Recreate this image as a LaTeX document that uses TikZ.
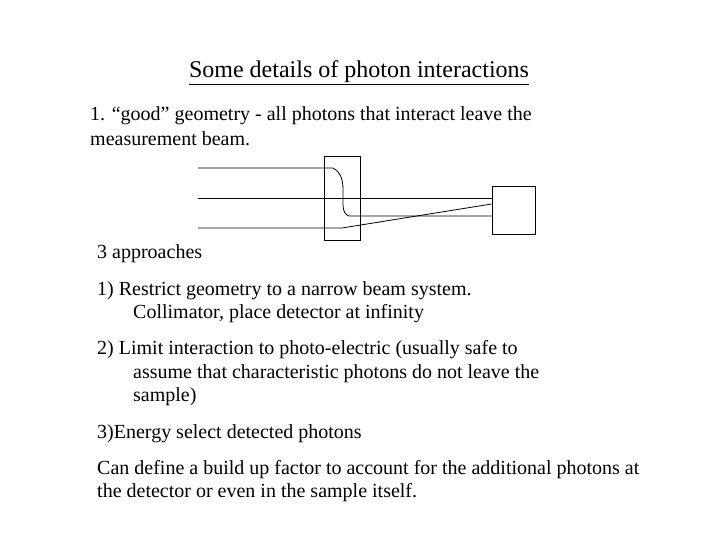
\documentclass[tikz,border=0pt]{standalone}
\usepackage{fontspec}
\setmainfont{Liberation Serif}
\begin{document}
\begin{tikzpicture}[x=1pt,y=-1pt,
  txt/.style={anchor=west,inner sep=0pt,font=\fontsize{20}{24}\selectfont},
  ln/.style={line width=0.8pt}]
\useasboundingbox (0,0) rectangle (720,540);
\node[inner sep=0pt,font=\fontsize{24}{28}\selectfont] (title) at (359,73) {\underline{Some details of photon interactions}};
\node[txt] (t1) at (90,116) {1. “good” geometry - all photons that interact leave the};
\node[txt] (t2) at (90,139) {measurement beam.};
\node[txt] (t3) at (97,254) {3 approaches};
\node[txt] (t4) at (97,291) {1) Restrict geometry to a narrow beam system.};
\node[txt] (t5) at (133,314) {Collimator, place detector at infinity};
\node[txt] (t6) at (97,350) {2) Limit interaction to photo-electric (usually safe to};
\node[txt] (t7) at (133,374) {assume that characteristic photons do not leave the};
\node[txt] (t8) at (133,397) {sample)};
\node[txt] (t9) at (97,434) {3)Energy select detected photons};
\node[txt] (t10) at (97,470) {Can define a build up factor to account for the additional photons at};
\node[txt] (t11) at (97,493) {the detector or even in the sample itself.};
% sample and detector
\node[draw,ln,minimum width=36pt,minimum height=84pt,inner sep=0pt] (sample) at (342,198) {};
\node[draw,ln,minimum width=43pt,minimum height=48pt,inner sep=0pt] (det) at (513.5,210) {};
\coordinate (a1) at (198,168);
\coordinate (a2) at (198,198);
\coordinate (a3) at (198,228);
\coordinate (d1) at (det.west |- 0,198);
\coordinate (d2) at (det.west |- 0,204);
\coordinate (d3) at (det.west |- 0,216);
\draw[ln] (a1) -- (333,168) .. controls (340,172) and (343,178) .. (343,190) -- (343,205) .. controls (343,212) and (346,215) .. (349,216) -- (d3);
\draw[ln] (a2) -- (d1);
\draw[ln] (a3) -- (342,228) -- (d2);
\end{tikzpicture}
\end{document}
